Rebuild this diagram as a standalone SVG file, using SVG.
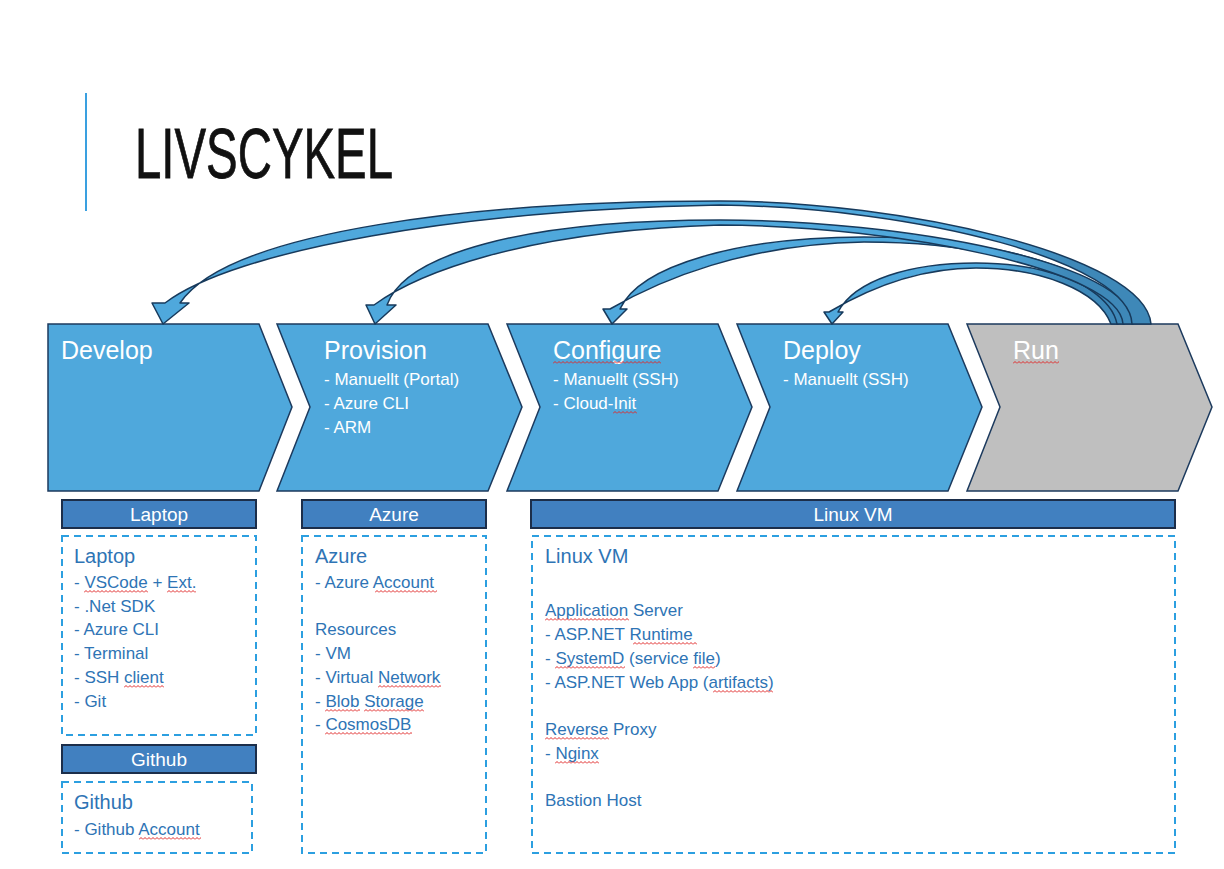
<svg xmlns="http://www.w3.org/2000/svg" width="1224" height="869" viewBox="0 0 1224 869">
<style>
.t{font-family:"Liberation Sans",Arial,sans-serif}
.chev{fill:#4FA8DC;stroke:#1C3A5E;stroke-width:1.5}
.run{fill:#BFBFBF}
.bar{fill:#4180C0;stroke:#1C2E4A;stroke-width:2}
.dash{fill:none;stroke:#2C9FE0;stroke-width:2;stroke-dasharray:7 5}
.w{fill:#fff}
.h1{font-size:25px}
.h2{font-size:17px}
.bt{font-size:19px;text-anchor:middle;fill:#fff}
.bx{fill:#2E74B5;font-size:17px}
.bh{font-size:20px}
.arr{fill:url(#ag);stroke:#173A5C;stroke-width:1.5;stroke-linejoin:round}
.sq{fill:url(#sqp)}
</style>
<defs>
<linearGradient id="ag" gradientUnits="userSpaceOnUse" x1="990" y1="0" x2="1070" y2="0">
<stop offset="0" stop-color="#4FA8DC"/>
<stop offset="1" stop-color="#3E88B8"/>
</linearGradient>
<pattern id="sqp" patternUnits="userSpaceOnUse" width="4" height="3">
<path d="M0,2.5 L2,0.5 L4,2.5" fill="none" stroke="#E02828" stroke-width="1"/>
</pattern>
</defs>
<rect width="1224" height="869" fill="#fff"/>
<g id="title">
<line x1="86" y1="93" x2="86" y2="211" stroke="#3AA0E0" stroke-width="2"/>
<text class="t" x="135" y="178" font-size="71" fill="#111" stroke="#111" stroke-width="0.8" textLength="258" lengthAdjust="spacingAndGlyphs">LIVSCYKEL</text>
</g>
<g id="develop">
<polygon class="chev" points="48,324 259,324 292,407 259,491 48,491"/>
<text class="t w h1" x="61" y="359">Develop</text>
</g>
<g id="provision">
<polygon class="chev" points="277,324 488,324 522,407 488,491 277,491 310,407"/>
<text class="t w h1" x="324" y="359">Provision</text>
<text class="t w h2" x="324" y="385">- Manuellt (Portal)</text>
<text class="t w h2" x="324" y="409">- Azure CLI</text>
<text class="t w h2" x="324" y="433">- ARM</text>
</g>
<g id="configure">
<polygon class="chev" points="507,324 718,324 752,407 718,491 507,491 540,407"/>
<text class="t w h1" x="553" y="359">Configure</text>
<text class="t w h2" x="553" y="385">- Manuellt (SSH)</text>
<text class="t w h2" x="553" y="409">- Cloud-Init</text>
<rect class="sq" transform="translate(553,361)" width="108" height="3"/>
<rect class="sq" transform="translate(613,411)" width="24" height="3"/>
</g>
<g id="deploy">
<polygon class="chev" points="737,324 948,324 982,407 948,491 737,491 770,407"/>
<text class="t w h1" x="783" y="359">Deploy</text>
<text class="t w h2" x="783" y="385">- Manuellt (SSH)</text>
</g>
<g id="run">
<polygon class="chev run" points="967,324 1178,324 1212,407 1178,491 967,491 1000,407"/>
<text class="t w h1" x="1013" y="359">Run</text>
<rect class="sq" transform="translate(1013,361)" width="46" height="3"/>
</g>
<g id="connectors">
<path class="arr" d="M1111,324 C1098,290 1040,268 976,268 C915,268 866,290 829,312 L824,312 L832,324 L843,312 L838,312 C855,280 910,263 976,263 C1045,263 1108,285 1118,324 Z"/>
<path class="arr" d="M1117,324 C1108,275 990,242 864,242 C745,244 660,280 610,309 L603,309 L612,324 L627,309 L620,309 C640,265 740,237 864,237 C990,237 1118,270 1124,324 Z"/>
<path class="arr" d="M1123,324 C1120,270 900,226 720,225 C520,231 415,275 374,305 L366,305 L375,324 L396,305 L387,305 C405,255 520,220 720,220 C900,220 1135,262 1133,324 Z"/>
<path class="arr" d="M1132,324 C1130,262 920,208 720,205 C460,210 235,250 165,303 L152,303 L163,324 L189,303 L180,303 C230,230 480,201 720,201 C900,201 1145,255 1151,324 Z"/>
</g>
<g id="laptop">
<rect class="bar" x="62" y="500" width="194" height="28"/>
<text class="t bt" x="159" y="521">Laptop</text>
<rect class="dash" x="62" y="536" width="194" height="199"/>
<text class="t bx bh" x="74" y="563">Laptop</text>
<text class="t bx" x="74" y="588">- VSCode + Ext.</text>
<text class="t bx" x="74" y="612">- .Net SDK</text>
<text class="t bx" x="74" y="635">- Azure CLI</text>
<text class="t bx" x="74" y="659">- Terminal</text>
<text class="t bx" x="74" y="683">- SSH client</text>
<text class="t bx" x="74" y="707">- Git</text>
<rect class="sq" transform="translate(84,590)" width="64" height="3"/>
<rect class="sq" transform="translate(167,590)" width="29" height="3"/>
<rect class="sq" transform="translate(124,685)" width="40" height="3"/>
</g>
<g id="github">
<rect class="bar" x="62" y="745" width="194" height="28"/>
<text class="t bt" x="159" y="766">Github</text>
<rect class="dash" x="62" y="782" width="190" height="71"/>
<text class="t bx bh" x="74" y="809">Github</text>
<text class="t bx" x="74" y="835">- Github Account</text>
<rect class="sq" transform="translate(139,837)" width="62" height="3"/>
</g>
<g id="azure">
<rect class="bar" x="302" y="500" width="184" height="28"/>
<text class="t bt" x="394" y="521">Azure</text>
<rect class="dash" x="302" y="536" width="184" height="317"/>
<text class="t bx bh" x="315" y="563">Azure</text>
<text class="t bx" x="315" y="588">- Azure Account</text>
<text class="t bx" x="315" y="635">Resources</text>
<text class="t bx" x="315" y="659">- VM</text>
<text class="t bx" x="315" y="683">- Virtual Network</text>
<text class="t bx" x="315" y="707">- Blob Storage</text>
<text class="t bx" x="315" y="730">- CosmosDB</text>
<rect class="sq" transform="translate(375,590)" width="62" height="3"/>
<rect class="sq" transform="translate(378,685)" width="63" height="3"/>
<rect class="sq" transform="translate(325,709)" width="35" height="3"/>
<rect class="sq" transform="translate(364,709)" width="60" height="3"/>
<rect class="sq" transform="translate(325,732)" width="87" height="3"/>
</g>
<g id="linuxvm">
<rect class="bar" x="531" y="500" width="644" height="28"/>
<text class="t bt" x="853" y="521">Linux VM</text>
<rect class="dash" x="532" y="536" width="643" height="317"/>
<text class="t bx bh" x="545" y="563">Linux VM</text>
<text class="t bx" x="545" y="616">Application Server</text>
<text class="t bx" x="545" y="640">- ASP.NET Runtime</text>
<text class="t bx" x="545" y="664">- SystemD (service file)</text>
<text class="t bx" x="545" y="688">- ASP.NET Web App (artifacts)</text>
<text class="t bx" x="545" y="735">Reverse Proxy</text>
<text class="t bx" x="545" y="759">- Nginx</text>
<text class="t bx" x="545" y="806">Bastion Host</text>
<rect class="sq" transform="translate(545,618)" width="84" height="3"/>
<rect class="sq" transform="translate(633,642)" width="64" height="3"/>
<rect class="sq" transform="translate(555,666)" width="70" height="3"/>
<rect class="sq" transform="translate(693,666)" width="22" height="3"/>
<rect class="sq" transform="translate(713,690)" width="60" height="3"/>
<rect class="sq" transform="translate(545,737)" width="64" height="3"/>
<rect class="sq" transform="translate(555,761)" width="44" height="3"/>
</g>
</svg>
